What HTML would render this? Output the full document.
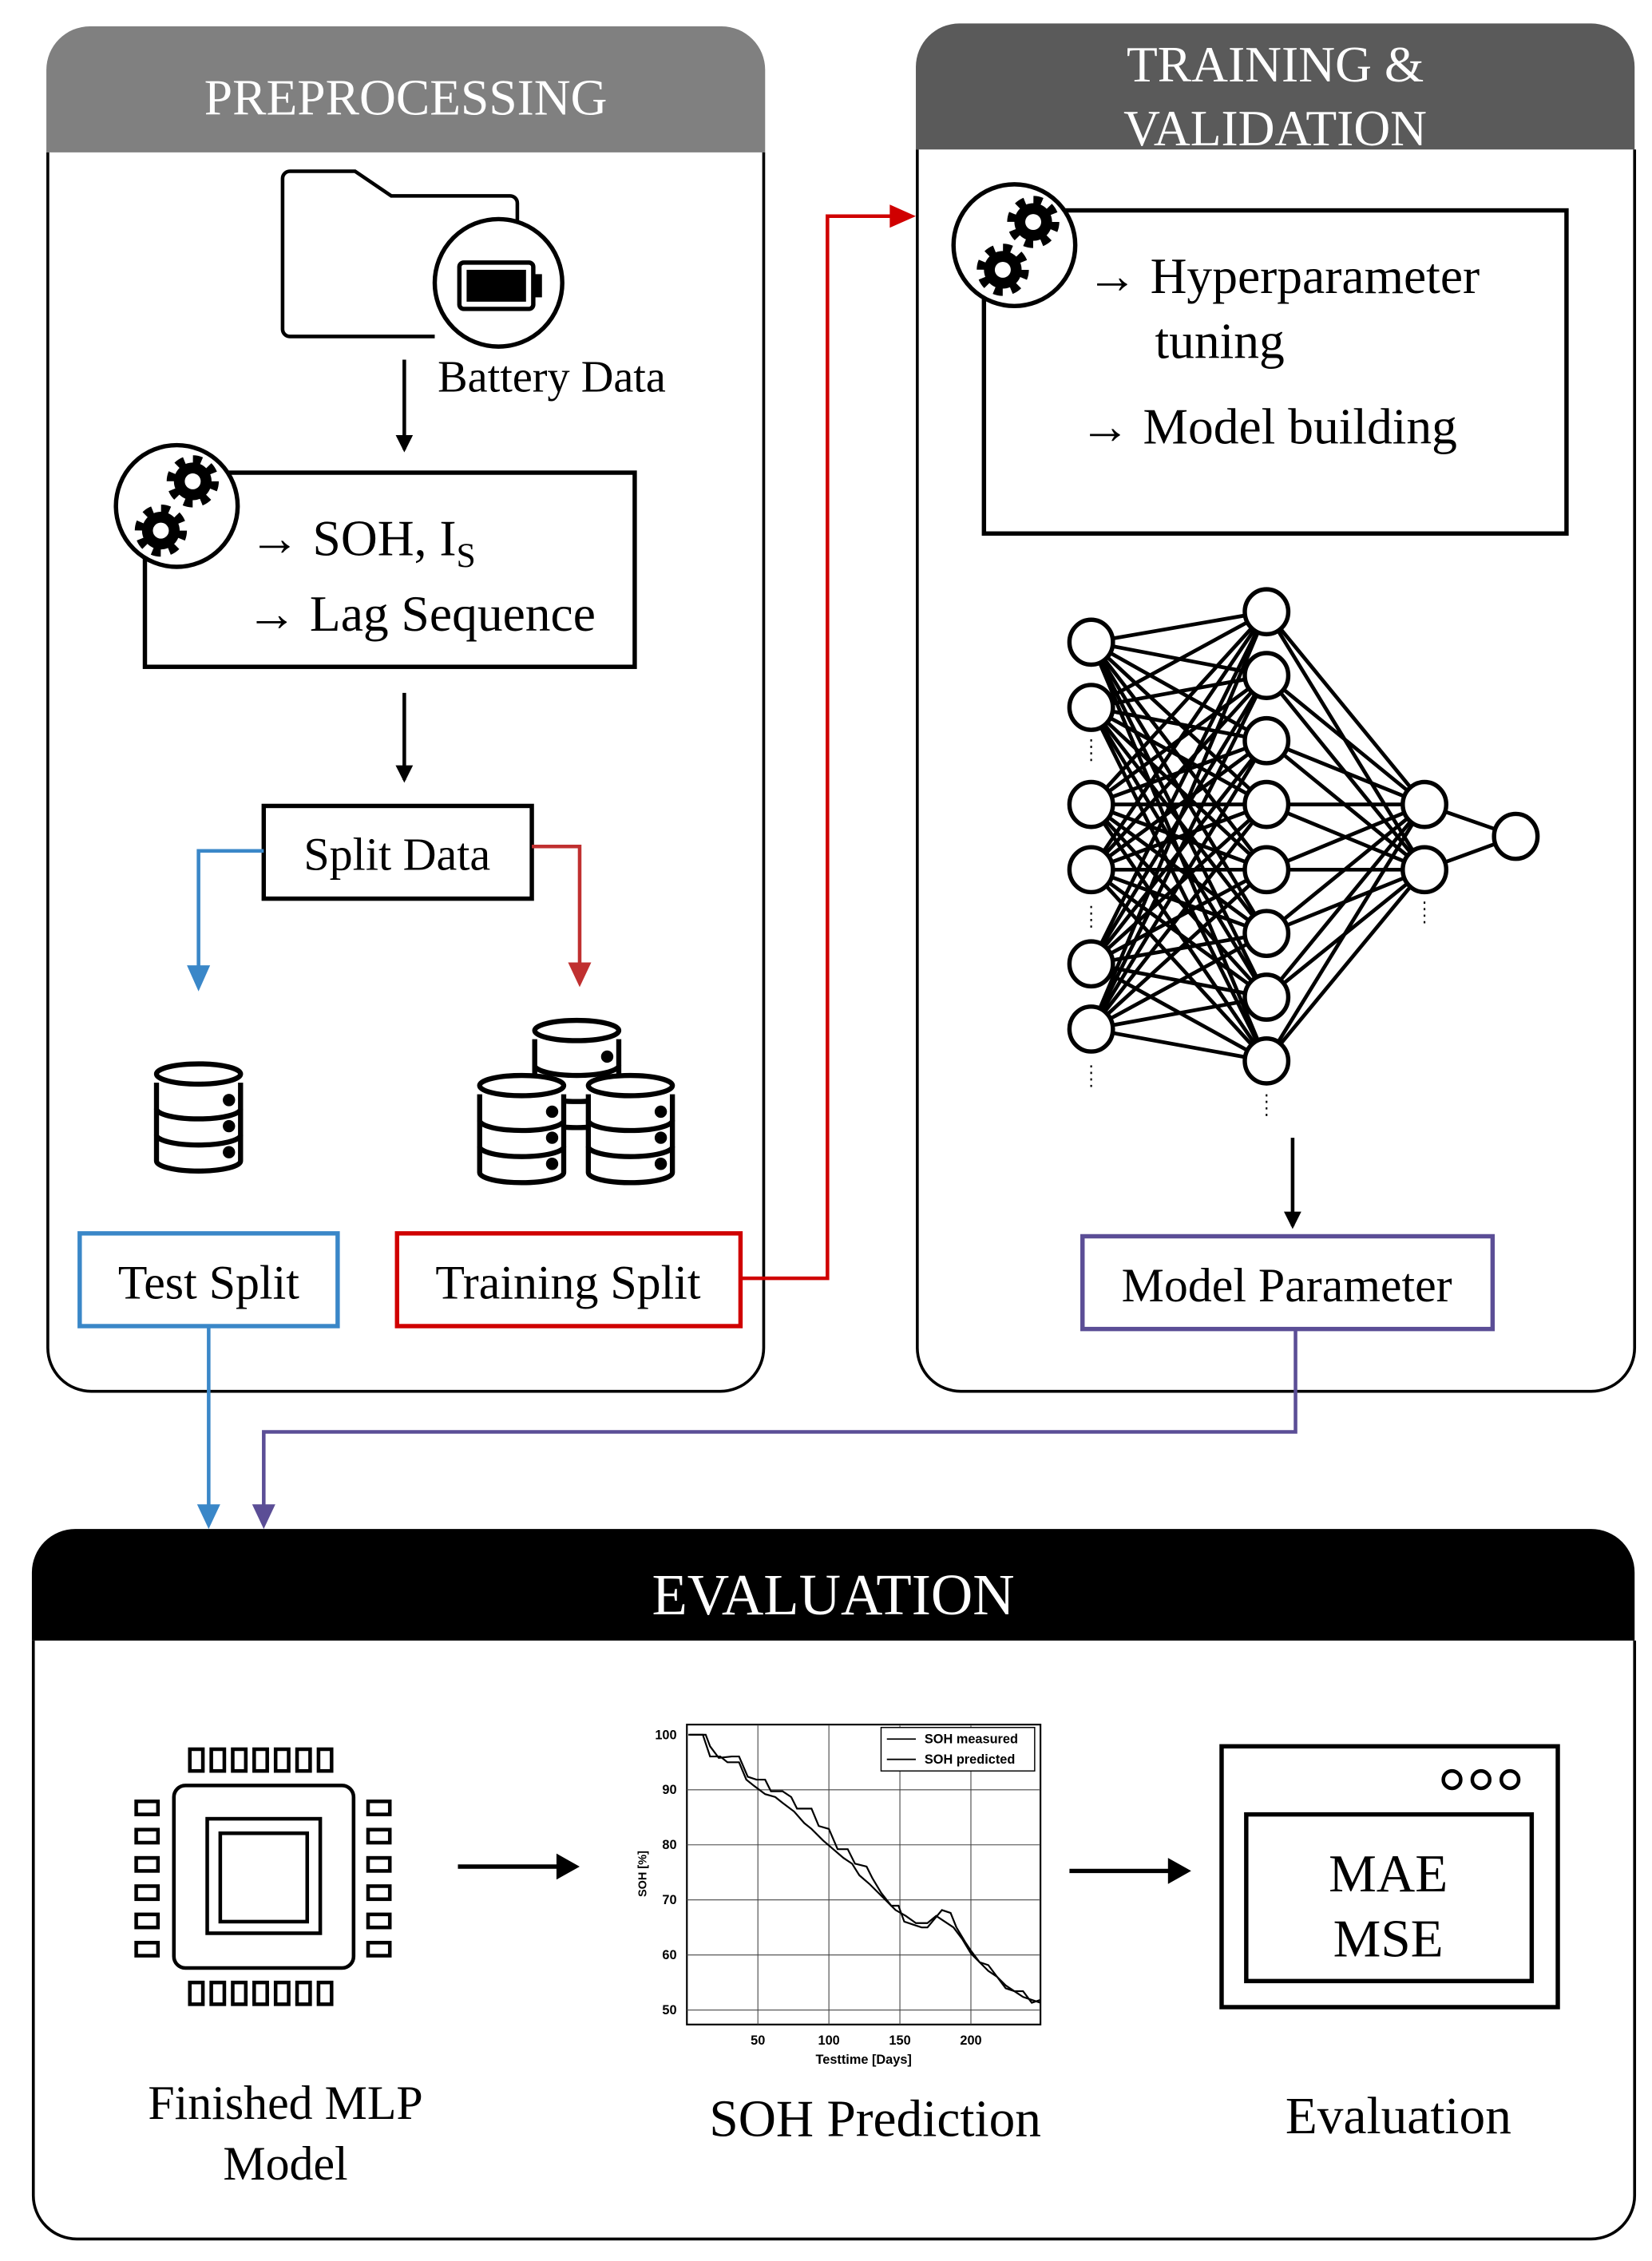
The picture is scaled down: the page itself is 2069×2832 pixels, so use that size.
<!DOCTYPE html>
<html><head><meta charset="utf-8"><style>
html,body{margin:0;padding:0;background:#fff;}
svg{display:block;}
text{font-family:"Liberation Serif",serif;}
text.sans{font-family:"Liberation Sans",sans-serif;font-weight:bold;}
</style></head><body>
<svg id="s" width="2069" height="2832" viewBox="0 0 1140 1560" xmlns="http://www.w3.org/2000/svg">
<defs>
<marker id="ak" markerWidth="12" markerHeight="12" refX="10" refY="6" orient="auto" markerUnits="userSpaceOnUse"><path d="M0,0 L12,6 L0,12 Z" fill="#000"/></marker>
<g id="gear"><circle r="14" fill="none" stroke="#000" stroke-width="8" stroke-dasharray="5.5 5.5"/><circle r="13" fill="#000"/><circle r="5.5" fill="#fff"/></g>
<g id="db"><g fill="#fff" stroke="#000" stroke-width="3.5">
<path d="M0,50 v18 a29,7 0 0 0 58,0 v-18"/><circle cx="50" cy="62" r="2.5" fill="#000"/>
<path d="M0,32 v18 a29,7 0 0 0 58,0 v-18"/><circle cx="50" cy="44" r="2.5" fill="#000"/>
<path d="M0,14 v18 a29,7 0 0 0 58,0 v-18"/><circle cx="50" cy="26" r="2.5" fill="#000"/>
<ellipse cx="29" cy="8" rx="29" ry="7"/></g></g>
</defs>

<!-- PREPROCESSING -->
<path d="M32,105 V48 a30,30 0 0 1 30,-30 H498 a30,30 0 0 1 30,30 V105 Z" fill="#808080"/>
<path d="M33,105 V930 a30,30 0 0 0 30,30 H497 a30,30 0 0 0 30,-30 V105" fill="none" stroke="#000" stroke-width="2"/>
<text x="280" y="79" font-size="35" fill="#fff" text-anchor="middle">PREPROCESSING</text>

<path d="M300,232 H200 a5,5 0 0 1 -5,-5 V123 a5,5 0 0 1 5,-5 H245 L270,135 H352 a5,5 0 0 1 5,5 V156" fill="none" stroke="#000" stroke-width="2.5"/>
<circle cx="344" cy="195" r="44" fill="#fff" stroke="#000" stroke-width="3"/>
<rect x="317" y="181" width="51" height="32" rx="3" fill="none" stroke="#000" stroke-width="3"/>
<rect x="322" y="186" width="41" height="22" fill="#000"/>
<rect x="369" y="189" width="5" height="16" fill="#000"/>
<text x="302" y="270" font-size="31">Battery Data</text>
<line x1="279" y1="248" x2="279" y2="310" stroke="#000" stroke-width="2.5" marker-end="url(#ak)"/>

<rect x="100" y="326" width="338" height="134" fill="none" stroke="#000" stroke-width="3"/>
<circle cx="122" cy="349" r="42" fill="#fff" stroke="#000" stroke-width="3"/>
<use href="#gear" x="133" y="332"/><use href="#gear" x="111" y="366"/>
<text x="172" y="383" font-size="35">→ SOH, I<tspan font-size="24" dy="8">S</tspan></text>
<text x="170" y="435" font-size="35">→ Lag Sequence</text>
<line x1="279" y1="478" x2="279" y2="538" stroke="#000" stroke-width="2.5" marker-end="url(#ak)"/>

<rect x="182" y="556" width="185" height="64" fill="none" stroke="#000" stroke-width="3"/>
<text x="274" y="600" font-size="32" text-anchor="middle">Split Data</text>
<polyline points="182,587 137,587 137,672" fill="none" stroke="#3a87c8" stroke-width="2.5"/>
<path d="M129,666 L145,666 L137,684 Z" fill="#3a87c8"/>
<polyline points="367,584 400,584 400,670" fill="none" stroke="#c03030" stroke-width="2.5"/>
<path d="M392,664 L408,664 L400,681 Z" fill="#c03030"/>

<use href="#db" x="108" y="733"/>
<use href="#db" x="369" y="703"/>
<use href="#db" x="331" y="741"/>
<use href="#db" x="406" y="741"/>

<rect x="55" y="851" width="178" height="64" fill="none" stroke="#3a87c8" stroke-width="3"/>
<text x="144" y="896" font-size="33" text-anchor="middle">Test Split</text>
<rect x="274" y="851" width="237" height="64" fill="none" stroke="#d00000" stroke-width="3"/>
<text x="392" y="896" font-size="33" text-anchor="middle">Training Split</text>
<polyline points="511,882 571,882 571,149 620,149" fill="none" stroke="#d00000" stroke-width="2.5"/>
<path d="M614,141 L632,149 L614,157 Z" fill="#d00000"/>

<!-- TRAINING -->
<path d="M632,103 V46 a30,30 0 0 1 30,-30 H1098 a30,30 0 0 1 30,30 V103 Z" fill="#5a5a5a"/>
<path d="M633,103 V930 a30,30 0 0 0 30,30 H1098 a30,30 0 0 0 30,-30 V103" fill="none" stroke="#000" stroke-width="2"/>
<text x="880" y="56" font-size="35" fill="#fff" text-anchor="middle">TRAINING &amp;</text>
<text x="880" y="100" font-size="35" fill="#fff" text-anchor="middle">VALIDATION</text>
<rect x="679" y="145" width="402" height="223" fill="none" stroke="#000" stroke-width="3"/>
<circle cx="700" cy="169" r="42" fill="#fff" stroke="#000" stroke-width="3"/>
<use href="#gear" x="713" y="153"/><use href="#gear" x="692" y="186"/>
<text x="750" y="202" font-size="35">→ Hyperparameter</text>
<text x="797" y="247" font-size="35">tuning</text>
<text x="745" y="306" font-size="35">→ Model building</text>

<g id="nn" stroke="#000" stroke-width="2.6"></g>
<line x1="892" y1="785" x2="892" y2="846" stroke="#000" stroke-width="2.5" marker-end="url(#ak)"/>
<rect x="747" y="853" width="283" height="64" fill="none" stroke="#5b4e96" stroke-width="3"/>
<text x="888" y="898" font-size="33" text-anchor="middle">Model Parameter</text>

<polyline points="894,917 894,988 182,988 182,1042" fill="none" stroke="#5b4e96" stroke-width="2.5"/>
<path d="M174,1038 L190,1038 L182,1055 Z" fill="#5b4e96"/>
<line x1="144" y1="915" x2="144" y2="1042" stroke="#3a87c8" stroke-width="2.5"/>
<path d="M136,1038 L152,1038 L144,1055 Z" fill="#3a87c8"/>

<!-- EVALUATION -->
<path d="M22,1132 V1085 a30,30 0 0 1 30,-30 H1098 a30,30 0 0 1 30,30 V1132 Z" fill="#000"/>
<path d="M23,1132 V1515 a30,30 0 0 0 30,30 H1098 a30,30 0 0 0 30,-30 V1132" fill="none" stroke="#000" stroke-width="2"/>
<text x="575" y="1114" font-size="40" fill="#fff" text-anchor="middle">EVALUATION</text>

<g fill="none" stroke="#000" stroke-width="2.5" id="chip">
<rect x="120" y="1232" width="124" height="126" rx="8"/>
<rect x="143" y="1255" width="78" height="79"/>
<rect x="152" y="1265" width="60" height="61"/>
</g>
<line x1="316" y1="1288" x2="388" y2="1288" stroke="#000" stroke-width="3"/><path d="M384,1279 L400,1288 L384,1297 Z"/>
<line x1="738" y1="1291" x2="810" y2="1291" stroke="#000" stroke-width="3"/><path d="M806,1282 L822,1291 L806,1300 Z"/>

<g id="chart">
<rect x="474" y="1190" width="244" height="207" fill="none" stroke="#000" stroke-width="1.2"/>
<g stroke="#444" stroke-width="0.6">
<line x1="474" y1="1235" x2="718" y2="1235"/><line x1="474" y1="1273" x2="718" y2="1273"/><line x1="474" y1="1311" x2="718" y2="1311"/><line x1="474" y1="1349" x2="718" y2="1349"/><line x1="474" y1="1387" x2="718" y2="1387"/>
<line x1="523" y1="1190" x2="523" y2="1397"/><line x1="572" y1="1190" x2="572" y2="1397"/><line x1="621" y1="1190" x2="621" y2="1397"/><line x1="670" y1="1190" x2="670" y2="1397"/>
</g>
<g font-size="9" text-anchor="end">
<text class="sans" x="467" y="1200">100</text><text class="sans" x="467" y="1238">90</text><text class="sans" x="467" y="1276">80</text><text class="sans" x="467" y="1314">70</text><text class="sans" x="467" y="1352">60</text><text class="sans" x="467" y="1390">50</text>
</g>
<g font-size="9" text-anchor="middle">
<text class="sans" x="523" y="1411">50</text><text class="sans" x="572" y="1411">100</text><text class="sans" x="621" y="1411">150</text><text class="sans" x="670" y="1411">200</text>
<text class="sans" x="596" y="1424">Testtime [Days]</text>
<text class="sans" transform="translate(446,1293) rotate(-90)" font-size="8">SOH [%]</text>
</g>
<rect x="608" y="1192" width="106" height="30" fill="#fff" stroke="#000" stroke-width="0.8"/>
<line x1="612" y1="1200" x2="632" y2="1200" stroke="#000"/><line x1="612" y1="1214" x2="632" y2="1214" stroke="#000"/>
<text class="sans" x="638" y="1203" font-size="9">SOH measured</text>
<text class="sans" x="638" y="1217" font-size="9">SOH predicted</text>
<polyline fill="none" stroke="#000" stroke-width="1.2" points="475,1197 485,1197 490,1212 497,1212 502,1216 510,1216 515,1228 520,1232 528,1238 535,1240 540,1244 548,1250 555,1258 560,1262 568,1270 575,1276 582,1282 588,1286 593,1294 600,1300 606,1306 612,1312 618,1318 625,1322 632,1327 640,1327 646,1322 652,1326 658,1330 664,1338 670,1348 676,1354 682,1360 688,1364 694,1370 700,1374 706,1378 712,1380 718,1382"/>
<polyline fill="none" stroke="#000" stroke-width="1.2" points="476,1197 487,1197 490,1205 496,1213 505,1212 510,1212 516,1226 522,1228 528,1228 532,1236 540,1236 546,1240 550,1248 560,1248 565,1260 572,1262 578,1276 585,1276 590,1286 598,1288 602,1296 608,1306 615,1315 620,1315 624,1326 630,1328 636,1330 640,1330 645,1324 650,1318 656,1320 660,1330 666,1340 670,1346 676,1354 682,1356 688,1364 694,1372 700,1374 706,1374 712,1382 718,1380"/>
</g>

<rect x="843" y="1205" width="232" height="180" fill="none" stroke="#000" stroke-width="3"/>
<rect x="860" y="1252" width="197" height="115" fill="none" stroke="#000" stroke-width="3"/>
<circle cx="1002" cy="1228" r="6" fill="none" stroke="#000" stroke-width="2.5"/>
<circle cx="1022" cy="1228" r="6" fill="none" stroke="#000" stroke-width="2.5"/>
<circle cx="1042" cy="1228" r="6" fill="none" stroke="#000" stroke-width="2.5"/>
<text x="958" y="1305" font-size="37" text-anchor="middle">MAE</text>
<text x="958" y="1350" font-size="37" text-anchor="middle">MSE</text>

<text x="197" y="1462" font-size="33" text-anchor="middle">Finished MLP</text>
<text x="197" y="1504" font-size="33" text-anchor="middle">Model</text>
<text x="604" y="1474" font-size="36" text-anchor="middle">SOH Prediction</text>
<text x="965" y="1472" font-size="36" text-anchor="middle">Evaluation</text>
</svg>
<script>
var NS="http://www.w3.org/2000/svg";
function el(p,t,a){var e=document.createElementNS(NS,t);for(var k in a)e.setAttribute(k,a[k]);p.appendChild(e);return e;}
var nn=document.getElementById("nn");
var L1=[443,488,555,600,665,710],L2=[422,466,511,555,600,644,688,732],L3=[555,600];
L1.forEach(function(a){L2.forEach(function(b){el(nn,"line",{x1:753,y1:a,x2:874,y2:b});});});
L2.forEach(function(a){L3.forEach(function(b){el(nn,"line",{x1:874,y1:a,x2:983,y2:b});});});
L3.forEach(function(a){el(nn,"line",{x1:983,y1:a,x2:1046,y2:577});});
function node(x,y){el(nn,"ellipse",{cx:x,cy:y,rx:15,ry:15.5,fill:"#fff","stroke-width":3});}
L1.forEach(function(y){node(753,y);});L2.forEach(function(y){node(874,y);});L3.forEach(function(y){node(983,y);});node(1046,577);
[[753,510],[753,625],[753,735],[874,755],[983,622]].forEach(function(p){el(nn,"line",{x1:p[0],y1:p[1],x2:p[0],y2:p[1]+15,"stroke-width":1.2,"stroke-dasharray":"1.5 3"});});
var chip=document.getElementById("chip");
for(var i=0;i<7;i++){var x=131+i*14.8;el(chip,"rect",{x:x,y:1207,width:9,height:15});el(chip,"rect",{x:x,y:1368,width:9,height:15});}
for(var j=0;j<6;j++){var y=1243+j*19.5;el(chip,"rect",{x:94,y:y,width:15,height:9});el(chip,"rect",{x:254,y:y,width:15,height:9});}
</script>
</body></html>
